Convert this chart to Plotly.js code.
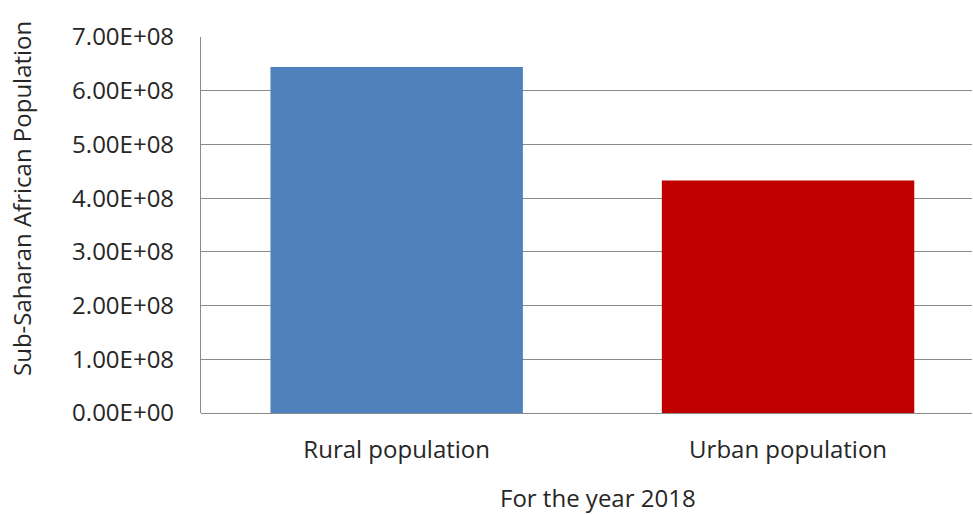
<!DOCTYPE html>
<html>
<head>
<meta charset="utf-8">
<script src="https://cdn.plot.ly/plotly-3.0.1.min.js"></script>
<style>html,body{margin:0;padding:0;background:#fff;}#chart{width:973px;height:515px;}</style>
</head>
<body>
<div id="chart"></div>
<script>
const categories = ["Rural population", "Urban population"];
const population = [6.44e8, 4.33e8];
const barColors = ["#4F81BD", "#C00000"];
const tickValues = [0, 1e8, 2e8, 3e8, 4e8, 5e8, 6e8, 7e8];
const tickLabels = ["0.00E+00", "1.00E+08", "2.00E+08", "3.00E+08", "4.00E+08", "5.00E+08", "6.00E+08", "7.00E+08"];
const xTitle = "For the year 2018";
const yTitle = "Sub-Saharan African Population";

const txt = "#262626";
const font = {family: "'Open Sans', Lato, sans-serif", color: txt, size: 24};

Plotly.newPlot("chart", [{
  type: "bar",
  x: categories,
  y: population,
  width: 0.645,
  marker: {color: barColors},
  hoverinfo: "x+y"
}], {
  width: 973, height: 515,
  margin: {l: 201, r: 1, t: 37, b: 102},
  paper_bgcolor: "#fff", plot_bgcolor: "#fff",
  font: font,
  showlegend: false,
  xaxis: {
    type: "category",
    range: [-0.5, 1.47],
    showgrid: false,
    showline: false,
    zeroline: false,
    ticks: "",
    tickfont: {size: 24, color: txt},
    ticklabelstandoff: 20
  },
  yaxis: {
    range: [0, 7e8],
    tickvals: tickValues,
    ticktext: tickLabels,
    showgrid: true,
    gridcolor: "#8a8a8a",
    gridwidth: 1.2,
    showline: true,
    linecolor: "#8a8a8a",
    linewidth: 1.2,
    zeroline: true,
    zerolinecolor: "#8a8a8a",
    zerolinewidth: 1.2,
    ticks: "",
    ticklabelstandoff: 21,
    tickfont: {size: 24, color: txt}
  },
  annotations: [
    {text: xTitle, xref: "paper", yref: "paper", x: (598 - 201) / 771, y: -(497 - 413) / 376,
     xanchor: "center", yanchor: "middle", borderpad: 0, showarrow: false, font: {size: 24, color: txt}},
    {text: yTitle, xref: "paper", yref: "paper", x: -(201 - 21) / 771, y: (413 - 199) / 376,
     xanchor: "center", yanchor: "middle", textangle: -90, showarrow: false, font: {size: 24, color: txt}}
  ]
}, {displayModeBar: false});
</script>
</body>
</html>
